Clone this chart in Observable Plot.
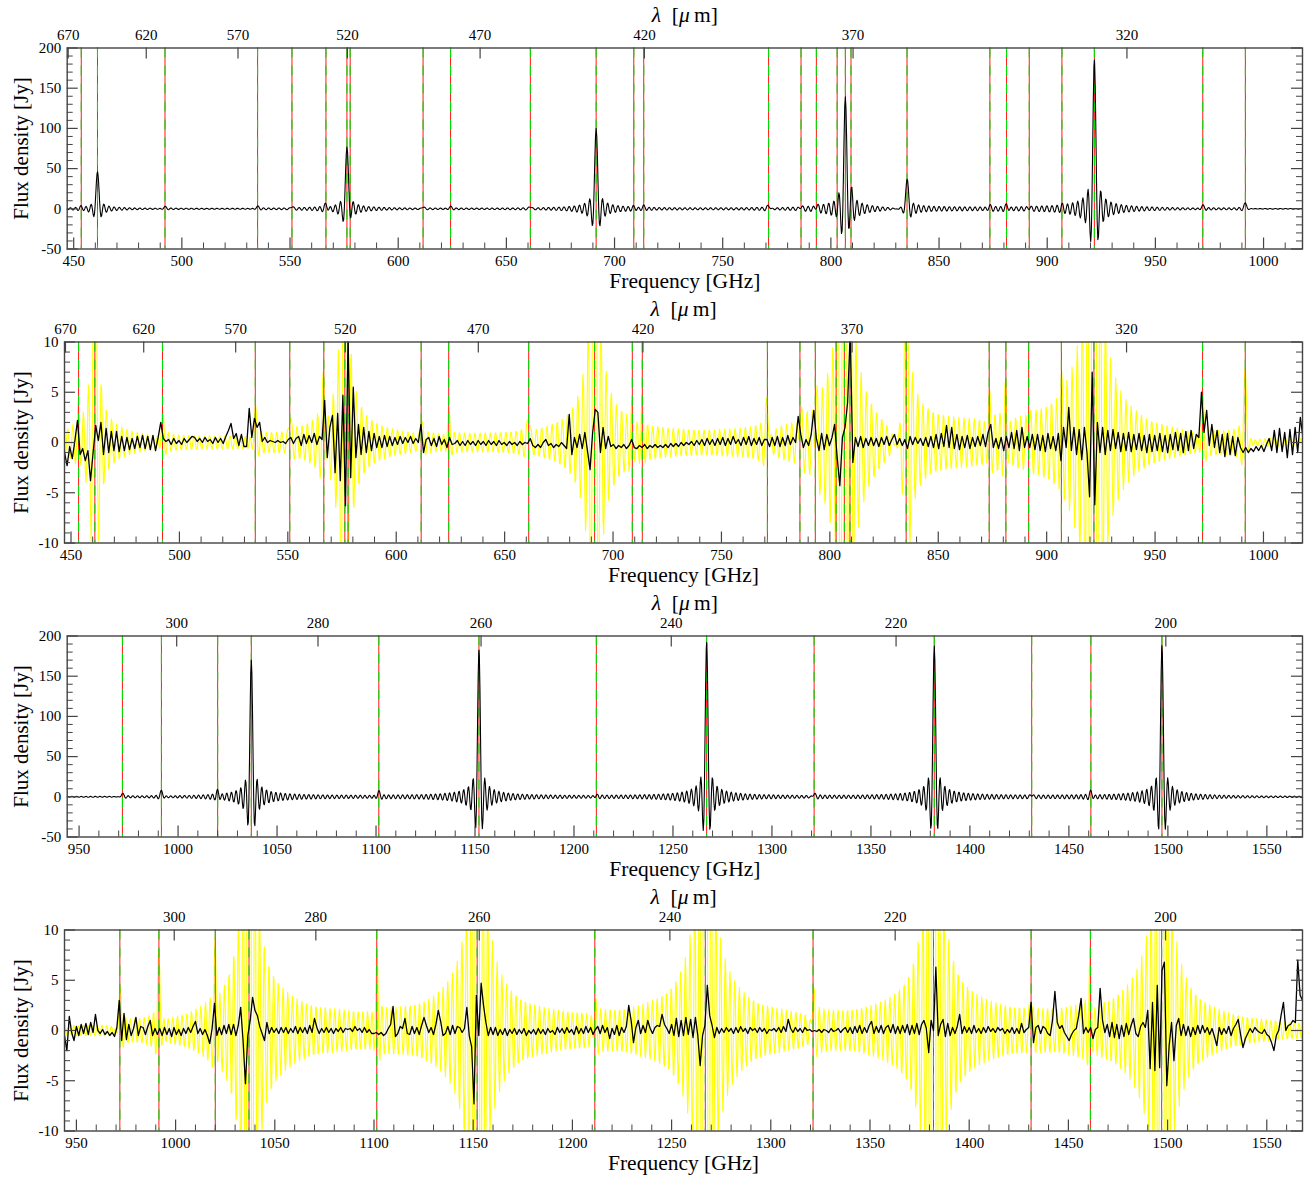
<!DOCTYPE html>
<html><head><meta charset="utf-8">
<script src="https://cdn.jsdelivr.net/npm/d3@7"></script>
<script src="https://cdn.jsdelivr.net/npm/@observablehq/plot@0.6"></script>
<style>
body{margin:0;background:#fff;}
#chart svg{display:block}
</style></head><body><div id="chart"></div>
<script>
// speed of light in GHz·μm, for the wavelength axis
const C_GHZ_UM = 299792.458;
// FTS spectral resolution (GHz), width of the sinc instrument line shape
const resolutionGHz = 1.184;

// ---- long-wavelength band (panels 1 and 2) ----
const slwDomain = [447, 1018];
const slwLineFreq = [453.5, 461.0, 492.2, 535.0, 550.9, 566.6, 576.3, 577.8, 611.5, 624.2, 661.1, 691.5, 708.9, 713.5, 771.2, 786.2, 793.3, 802.9, 806.7, 809.3, 835.2, 873.5, 881.2, 891.7, 906.8, 921.8, 971.9, 991.6];
const slwLinePeak = [2, 46, 2.5, 3, 3, 5, 78, 6, 2.5, 2.5, 3, 100, 2, 3, 4, 3, 4, 4, 139, 12, 37, 3, 4, 2, 2, 185, 4, 7];
const slwLambdaTicks = [670, 620, 570, 520, 470, 420, 370, 320];
// residual after line fit, read every 1.2 GHz from 447 GHz
const slwResidualStart = 447;
const slwResidual = [
 -1.0,-2.3,-0.4,-1.6,0.2,2.2,-1.2,-0.6,-1.8,-0.8,
 -3.8,-1.0,1.7,0.2,2.0,-1.2,1.4,-1.0,1.1,-0.8,
 1.1,-0.9,0.6,-0.8,0.5,-0.7,0.4,-0.6,0.6,-0.5,
 0.7,-0.6,0.6,-0.7,0.7,-0.8,0.5,2.0,0.4,0.1,
 0.3,-0.2,0.4,-0.1,0.2,-0.2,0.4,0.0,0.3,0.6,
 0.5,0.1,0.4,0.0,0.5,0.1,0.3,-0.1,0.5,0.0,
 0.4,-0.1,0.6,1.2,1.9,0.4,0.9,-0.3,0.8,-0.4,
 -0.4,3.4,0.5,2.4,1.5,2.0,0.1,0.5,0.0,0.2,
 0.1,0.0,0.2,0.0,0.1,-0.1,0.3,0.5,-0.1,0.4,
 0.6,-0.3,0.8,-0.1,0.7,0.0,0.9,-0.2,0.6,0.3,
 4.2,-1.5,1.5,2.7,-3.0,2.9,-3.8,4.7,-6.3,10.5,
 -3.5,5.5,-1.5,1.8,-1.2,1.5,-1.0,1.1,-0.8,0.9,
 -0.5,0.6,-0.5,0.7,-0.4,0.6,-0.3,0.5,-0.2,0.6,
 -0.1,0.5,0.0,0.6,-0.1,0.4,0.0,1.8,-1.0,0.3,
 0.5,-0.3,0.4,-0.4,0.6,-0.2,0.3,-0.5,0.5,-0.2,
 -0.1,0.2,-0.3,0.1,-0.3,0.2,-0.2,0.1,-0.3,0.2,
 -0.2,0.1,-0.3,0.2,-0.2,0.1,-0.3,0.2,-0.2,0.0,
 -0.3,0.1,-0.2,0.0,-0.3,0.1,-0.2,0.0,-0.1,0.4,
 -0.3,-0.5,-0.2,-0.5,0.0,0.3,-0.3,-0.1,-0.5,-0.2,
 -0.4,0.0,-0.3,-0.6,2.8,-1.2,0.5,-0.5,0.8,-0.6,
 1.0,-0.8,-2.7,1.0,3.3,3.0,-1.0,1.5,-0.6,0.6,
 -0.4,-0.2,-0.6,-0.3,-0.5,-0.2,-0.6,-0.3,0.3,-0.5,
 -0.6,-0.3,-0.5,-0.2,-0.6,-0.3,-0.5,-0.2,-0.5,-0.3,
 -0.5,-0.2,-0.5,-0.1,-0.4,-0.1,-0.4,0.0,-0.3,0.0,
 -0.2,0.1,-0.3,0.2,-0.2,0.3,-0.3,0.4,-0.2,0.3,
 -0.3,0.4,-0.2,0.5,-0.3,0.4,-0.2,0.6,-0.1,0.3,
 -0.3,0.5,-0.2,0.6,-0.3,0.4,-0.2,0.5,-0.3,0.3,
 0.3,-0.4,0.5,-0.3,0.6,-0.4,0.5,-0.3,0.7,-0.2,
 0.5,0.0,2.6,0.8,-0.5,0.3,-0.3,0.8,3.2,0.4,
 -0.8,0.9,-0.7,0.8,-0.3,0.5,1.8,-1.5,-4.3,0.5,
 1.5,4.0,11,-2.0,0.5,-0.4,0.6,-0.5,0.4,-0.3,
 0.5,-0.3,0.4,-0.4,0.5,-0.2,0.6,-0.3,0.3,0.8,
 -0.2,0.4,-0.3,0.3,-0.6,0.6,-0.2,0.5,-0.1,0.4,
 -0.3,0.5,-0.4,0.6,-0.5,0.8,-0.6,0.9,-0.4,1.7,
 -0.5,1.5,-0.6,0.8,-0.7,0.6,-0.5,0.7,-0.6,0.5,
 -0.4,0.6,-0.3,0.8,-0.4,1.0,1.8,-0.5,0.4,-0.6,
 0.5,-0.8,0.6,-0.5,1.0,-0.6,1.2,-0.8,1.5,-0.5,
 0.6,-0.5,0.8,-0.7,0.8,-0.8,0.7,-0.9,0.9,-0.6,
 0.6,-0.8,0.9,-1.8,1.5,-0.5,3.5,-0.8,1.5,-1.2,
 1.3,-1.7,1.5,-1.0,-5.4,7.0,-6.2,2.0,-1.0,1.5,
 -1.2,1.2,-0.8,1.3,-0.6,1.0,-0.9,0.9,-0.8,1.0,
 -0.9,0.8,-0.7,0.9,-0.8,0.7,-1.0,0.8,-0.9,0.7,
 -0.8,0.9,-0.9,0.7,-1.0,0.8,-0.7,1.0,-0.8,0.9,
 -1.0,1.1,-0.8,1.2,-0.6,0.8,0.5,5.0,1.0,3.2,
 -0.3,1.8,-0.5,1.2,-1.0,0.8,-1.4,0.9,-1.2,0.6,
 -1.3,0.5,-0.5,-1.0,-0.5,-1.0,-0.6,-0.9,-0.4,-0.8,
 -0.3,-0.9,-0.2,0.4,-0.8,1.2,-1.0,1.4,-0.9,1.0,
 -1.5,1.3,-1.2,1.5,-1.0,2.5,0.5
];

// ---- short-wavelength band (panels 3 and 4) ----
const sswDomain = [944, 1568];
const sswLineFreq = [971.9, 991.6, 1020.0, 1037.0, 1101.4, 1152.0, 1211.3, 1267.0, 1321.3, 1382.0, 1431.2, 1461.1, 1497.0];
const sswLinePeak = [4, 7, 6, 170, 6, 183, 2, 192, 4, 188, 3, 6, 188];
const sswLambdaTicks = [300, 280, 260, 240, 220, 200];
const sswResidualStart = 944;
const sswResidual = [
 -0.5,-2.0,1.4,-0.2,-1.0,0.4,-0.5,0.6,-0.3,0.7,
 -0.4,0.8,-0.2,1.6,0.0,-0.3,0.1,-0.4,-0.1,-0.5,
 -0.2,-0.6,0.3,3.0,-1.0,1.7,-0.9,0.6,-0.5,0.2,
 1.3,-0.5,0.4,0.3,-0.4,0.4,1.0,-0.5,0.2,-0.4,
 0.2,-0.5,0.3,-0.4,0.2,-0.6,0.3,-0.4,0.1,-0.5,
 0.2,-0.3,0.3,-0.2,0.4,0.9,-0.3,0.2,-0.4,0.1,
 -0.5,-1.3,0.2,2.7,-0.5,0.3,-0.4,0.5,-0.3,0.6,
 -0.4,0.6,-0.5,0.5,2.3,-1.0,-5.3,-0.5,1.0,3.3,
 2.0,1.5,0.4,-0.3,-1.0,0.8,-0.3,0.3,-0.2,0.2,
 -0.3,0.3,-0.2,0.3,-0.3,0.2,-0.2,0.4,-0.3,0.3,
 -0.2,0.3,-0.3,0.5,-0.2,1.2,0.3,-0.3,0.2,-0.2,
 0.3,-0.2,0.2,-0.3,0.2,-0.1,0.3,-0.2,0.2,0.1,
 0.2,-0.1,0.4,0.0,0.2,-0.2,0.3,-0.2,0.1,-0.3,
 -0.3,-0.2,-0.4,-0.2,-0.5,-0.3,0.2,0.6,2.4,-0.6,
 -0.3,0.4,0.2,1.2,-0.3,-0.4,0.4,-0.3,0.3,-0.4,
 0.5,1.3,0.5,-0.2,0.3,-0.4,0.6,2.0,0.9,-0.5,
 -0.3,0.4,-0.4,0.5,-0.3,0.4,0.3,-0.2,0.2,2.3,
 -0.5,-1.6,-7.3,3.5,-0.5,4.7,2.5,0.8,-0.5,0.3,
 -0.4,0.3,-0.5,0.1,-0.4,0.2,-0.5,0.1,-0.3,0.2,
 -0.4,0.1,-0.3,0.2,-0.5,0.0,-0.3,0.1,-0.4,0.2,
 -0.3,0.1,-0.4,0.2,-0.2,0.0,-0.4,0.3,-0.2,0.2,
 -0.3,0.3,-0.2,0.1,-0.4,0.4,-0.3,0.2,-0.3,0.4,
 -0.2,0.3,-0.4,0.1,0.4,-0.3,0.5,-0.2,0.3,-0.8,
 0.2,-0.4,0.5,-0.5,0.3,-0.2,0.4,2.5,1.0,-1.2,
 0.3,1.0,-0.3,0.5,-0.2,1.0,0.2,-0.3,0.3,0.5,
 0.4,1.6,0.6,0.2,-0.3,0.6,-0.5,1.2,-0.6,1.0,
 -0.5,1.3,-0.4,1.1,-0.7,1.3,-0.5,-3.5,-0.5,0.5,
 4.5,1.5,0.5,-0.7,0.3,-0.3,0.2,-0.2,0.3,-0.1,
 0.2,-0.3,0.3,-0.2,0.4,-0.1,0.2,-0.3,0.3,0.0,
 0.2,-0.2,0.3,-0.1,0.2,-0.3,0.1,0.0,0.2,-0.1,
 0.3,-0.2,0.4,-0.1,1.1,0.2,-0.2,0.3,-0.1,0.2,
 -0.2,0.3,0.0,0.1,-0.1,0.0,-0.1,0.1,-0.2,0.1,
 0.0,-0.2,0.2,-0.1,0.0,0.2,-0.2,0.1,0.3,-0.2,
 0.3,-0.3,0.4,-0.2,0.5,-0.3,0.3,-0.2,0.5,0.9,
 -0.3,0.4,-0.2,0.5,-0.3,0.3,0.5,-0.2,0.6,-0.3,
 0.4,-0.3,0.5,-0.2,0.6,-0.4,0.5,-0.3,0.7,-0.4,
 0.6,1.0,0.2,-2.2,1.0,0.0,6.3,-0.5,0.6,1.1,
 -0.6,0.7,-0.5,0.3,-0.3,0.4,1.6,-0.3,0.4,-0.2,
 0.3,-0.3,0.5,-0.2,0.2,-0.3,0.3,-0.2,0.4,-0.1,
 0.2,-0.2,0.3,0.0,0.2,-0.3,0.1,-0.2,0.3,-0.3,
 0.2,-0.3,0.7,-0.2,0.1,0.3,2.8,-1.2,0.3,0.5,
 -0.3,0.4,0.2,-0.3,-0.5,1.0,3.9,0.8,0.2,0.5,
 -0.2,-0.6,-1.0,-0.4,0.0,0.2,1.5,3.2,-0.3,0.3,
 -0.2,0.3,-0.8,0.1,0.3,4.2,1.0,-0.2,0.6,-0.6,
 0.8,-0.7,0.6,-0.8,0.5,-0.6,0.7,-0.4,0.5,1.2,
 -0.3,-0.6,0.4,0.8,0.3,2.0,-3.8,2.8,-4.0,4.5,
 -3.7,6.0,6.8,-5.5,-1.5,0.8,-3.0,0.5,1.2,-0.5,
 0.6,-0.5,0.4,-0.6,0.3,-0.4,0.5,-0.3,0.5,-0.2,
 0.3,-0.4,0.2,-0.6,-1.5,0.3,-0.4,0.2,-0.3,0.4,
 -0.5,0.2,0.6,1.1,-0.4,-1.7,-0.8,-0.3,0.2,-0.2,
 0.3,0.0,-0.2,-0.3,0.1,-0.4,-0.6,-1.2,-2.0,-0.5,
 0.0,1.5,2.8,0.0,0.5,0.6,1.0,0.8,7.0,3.5,
 3.0
];
const gridStep = 1.2;

const RED = "#ff1a1a", GREEN = "#00e000", YELLOW = "#ffff00", AXIS = "#444";
const FONT = "'Liberation Serif','Times New Roman',Times,serif";

// spectrum built from the read line list through the sinc instrument line shape
function lineSpectrum(freqs, peaks, domain) {
  const step = 0.3;
  const grid = d3.range(domain[0], domain[1] + 1e-9, step).concat(freqs)
    .filter(f => f >= domain[0] && f <= domain[1]).sort((a, b) => a - b);
  return grid.map(f => ({f, v: d3.sum(freqs, (c, i) => {
    const x = Math.PI * (f - c) / resolutionGHz;
    return peaks[i] * (Math.abs(x) < 1e-9 ? 1 : Math.sin(x) / x);
  })}));
}
function residualSeries(values, start) {
  return values.map((v, i) => ({f: start + i * gridStep, v}));
}

function panel(o) {
  const W = 1309, H = 294, mt = 47.5, mb = 45.5, mr = 7;
  const ph = H - mt - mb, pw = W - o.marginLeft - mr;
  const lambdaFreq = o.lambdaTicks.map(l => C_GHZ_UM / l);
  const xMajor = d3.range(Math.ceil(o.domain[0] / 50) * 50, o.domain[1], 50);
  const xMinor = d3.range(Math.ceil(o.domain[0] / 10) * 10, o.domain[1], 10).filter(v => v % 50 !== 0);
  const yMajor = d3.range(o.yDomain[0], o.yDomain[1] + 1e-9, o.yMajorStep);
  const yMinor = d3.range(o.yDomain[0], o.yDomain[1] + 1e-9, o.yMinorStep).filter(v => Math.abs(v / o.yMajorStep - Math.round(v / o.yMajorStep)) > 1e-6);
  const marks = [];
  if (o.residual) {
    marks.push(Plot.line(o.spectrum, {x: "f", y: "v", stroke: YELLOW, strokeWidth: 1.1, clip: true}));
  }
  marks.push(
    Plot.ruleX(o.lines, {stroke: RED, strokeWidth: 1}),
    Plot.ruleX(o.lines, {stroke: GREEN, strokeWidth: 1.1, strokeDasharray: "10,8"})
  );
  if (o.residual) {
    marks.push(Plot.line(o.residual, {x: "f", y: "v", stroke: "black", strokeWidth: 1.3, clip: true}));
  } else {
    marks.push(Plot.line(o.spectrum, {x: "f", y: "v", stroke: "black", strokeWidth: 1.1, clip: true}));
  }
  marks.push(
    Plot.ruleX(xMinor, {stroke: AXIS, insetTop: ph - 6}),
    Plot.ruleX(xMajor, {stroke: AXIS, strokeWidth: 1.2, insetTop: ph - 11}),
    Plot.ruleX(lambdaFreq, {stroke: AXIS, strokeWidth: 1.2, insetBottom: ph - 11}),
    Plot.ruleY(yMinor, {stroke: AXIS, insetRight: pw - 6}),
    Plot.ruleY(yMinor, {stroke: AXIS, insetLeft: pw - 6}),
    Plot.ruleY(yMajor, {stroke: AXIS, strokeWidth: 1.2, insetRight: pw - 11}),
    Plot.ruleY(yMajor, {stroke: AXIS, strokeWidth: 1.2, insetLeft: pw - 11}),
    Plot.frame({stroke: AXIS, strokeWidth: 1.4}),
    Plot.axisX(xMajor, {anchor: "bottom", tickSize: 0, tickPadding: 6, label: null, fontSize: 15, tickFormat: d => String(d)}),
    Plot.axisX(lambdaFreq, {anchor: "top", tickSize: 0, tickPadding: 8, label: null, fontSize: 15, tickFormat: d => String(Math.round(C_GHZ_UM / d))}),
    Plot.axisY(yMajor, {anchor: "left", tickSize: 0, tickPadding: 6, label: null, fontSize: 15, tickFormat: d => String(d)}),
    Plot.text(["Frequency [GHz]"], {frameAnchor: "bottom", dy: 32, lineAnchor: "middle", fontSize: 21.5}),
    Plot.text(["λ [μ m]"], {frameAnchor: "top", dy: -33, lineAnchor: "middle", fontSize: 21.5}),
    Plot.text(["Flux density [Jy]"], {frameAnchor: "left", dx: 21 - o.marginLeft, rotate: -90, textAnchor: "middle", lineAnchor: "middle", fontSize: 21})
  );
  const svg = Plot.plot({
    width: W, height: H,
    marginTop: mt, marginBottom: mb, marginLeft: o.marginLeft, marginRight: mr,
    x: {domain: o.domain},
    y: {domain: o.yDomain},
    style: {fontFamily: FONT, fontSize: "15px", background: "white", color: "black"},
    marks
  });
  d3.select(svg).selectAll("text").filter(function() { return this.textContent === "λ [μ m]"; })
    .each(function() {
      const t = d3.select(this); t.text(null);
      t.append("tspan").attr("font-style", "italic").text("λ");
      t.append("tspan").text("  [");
      t.append("tspan").attr("font-style", "italic").text("μ");
      t.append("tspan").text("\u2009m]");
    });
  return svg;
}

const slwSpectrum = lineSpectrum(slwLineFreq, slwLinePeak, slwDomain);
const sswSpectrum = lineSpectrum(sswLineFreq, sswLinePeak, sswDomain);
const chart = document.getElementById("chart");
chart.append(panel({domain: slwDomain, yDomain: [-50, 200], yMajorStep: 50, yMinorStep: 10, marginLeft: 66.7,
  lambdaTicks: slwLambdaTicks, lines: slwLineFreq, spectrum: slwSpectrum}));
chart.append(panel({domain: slwDomain, yDomain: [-10, 10], yMajorStep: 5, yMinorStep: 1, marginLeft: 64,
  lambdaTicks: slwLambdaTicks, lines: slwLineFreq, spectrum: slwSpectrum, residual: residualSeries(slwResidual, slwResidualStart)}));
chart.append(panel({domain: sswDomain, yDomain: [-50, 200], yMajorStep: 50, yMinorStep: 10, marginLeft: 66.7,
  lambdaTicks: sswLambdaTicks, lines: sswLineFreq, spectrum: sswSpectrum}));
chart.append(panel({domain: sswDomain, yDomain: [-10, 10], yMajorStep: 5, yMinorStep: 1, marginLeft: 64,
  lambdaTicks: sswLambdaTicks, lines: sswLineFreq, spectrum: sswSpectrum, residual: residualSeries(sswResidual, sswResidualStart)}));
</script></body></html>
